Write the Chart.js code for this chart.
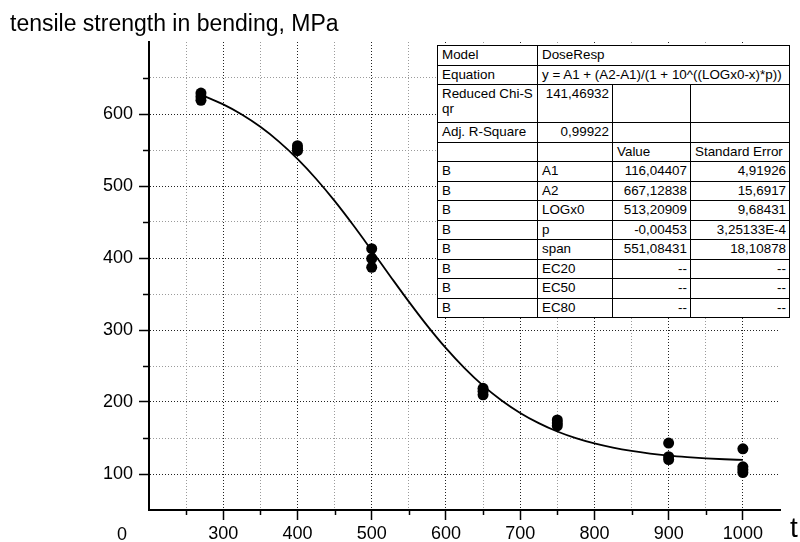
<!DOCTYPE html>
<html>
<head>
<meta charset="utf-8">
<script src="https://cdn.jsdelivr.net/npm/chart.js@4.4.1/dist/chart.umd.min.js"></script>
<style>
  body { margin: 0; background: #fff; }
  #wrap { position: relative; width: 800px; height: 542px; }
  #fitTable {
    position: absolute; left: 437px; top: 45px;
    border-collapse: collapse; table-layout: fixed; width: 352px;
    background: #fff; font: 13.4px "Liberation Sans", Arial, sans-serif; color: #000;
  }
  #fitTable td {
    border: 1px solid #000; height: 17.5px; padding: 1px 3px 0 4px;
    line-height: 15px; vertical-align: top; white-space: nowrap; overflow: hidden;
  }
  #fitTable td.num { text-align: right; }
</style>
</head>
<body>
<div id="wrap">
  <canvas id="grafico" width="800" height="542"></canvas>
  <table id="fitTable">
    <colgroup><col style="width:100px"><col style="width:75px"><col style="width:78px"><col style="width:99px"></colgroup>
    <tbody></tbody>
  </table>
</div>
<script>
// measured points (temperature t, strength MPa)
const pointX = [270, 270, 270, 400, 400, 400, 500, 500, 500, 650, 650, 650,
                750, 750, 750, 900, 900, 900, 1000, 1000, 1000, 1000];
const pointY = [629, 624, 619, 556, 552, 549, 413, 399, 387, 219, 215, 210,
                175, 171, 167, 143, 124, 120, 135, 110, 106, 102];

// fitted curve
const fitX = [270, 300, 325, 350, 375, 400, 425, 450, 475, 500, 525, 550, 575, 600, 625,
              650, 675, 700, 725, 750, 775, 800, 825, 850, 875, 900, 925, 950, 975, 1000];
const fitY = [626.7, 613.3, 599.3, 582.2, 561.7, 537.7, 510.1, 479.3, 445.8, 410.5, 374.7, 339.4, 305.7, 274.7, 247.0,
              222.7, 202.1, 184.8, 170.6, 159.0, 149.8, 142.4, 136.6, 132.0, 128.4, 125.6, 123.5, 121.8, 120.5, 119.5];

const xTickLabels = [300, 400, 500, 600, 700, 800, 900, 1000];
const yTickLabels = [100, 200, 300, 400, 500, 600];

// fit report table
const paramNames = ['A1', 'A2', 'LOGx0', 'p', 'span', 'EC20', 'EC50', 'EC80'];
const paramValues = ['116,04407', '667,12838', '513,20909', '-0,00453', '551,08431', '--', '--', '--'];
const paramErrors = ['4,91926', '15,6917', '9,68431', '3,25133E-4', '18,10878', '--', '--', '--'];

const tbody = document.querySelector('#fitTable tbody');
let html = '';
html += '<tr><td>Model</td><td colspan="3">DoseResp</td></tr>';
html += '<tr><td>Equation</td><td colspan="3">y = A1 + (A2-A1)/(1 + 10^((LOGx0-x)*p))</td></tr>';
html += '<tr><td style="height:36px">Reduced Chi-S<br>qr</td><td class="num">141,46932</td><td></td><td></td></tr>';
html += '<tr><td>Adj. R-Square</td><td class="num">0,99922</td><td></td><td></td></tr>';
html += '<tr><td></td><td></td><td>Value</td><td>Standard Error</td></tr>';
paramNames.forEach((n, i) => {
  html += `<tr><td>B</td><td>${n}</td><td class="num">${paramValues[i]}</td><td class="num">${paramErrors[i]}</td></tr>`;
});
tbody.innerHTML = html;

const FONT = '"Liberation Sans", Arial, sans-serif';

const isMajor = v => v % 100 === 0;

const axisExtras = {
  id: 'axisExtras',
  afterDraw(chart) {
    const { ctx, chartArea, scales } = chart;
    ctx.save();
    ctx.strokeStyle = '#000';
    ctx.lineWidth = 1.5;
    scales.x.ticks.forEach(t => {
      if (!isMajor(t.value) && t.value > 200 && t.value < 1050) {
        const px = Math.round(scales.x.getPixelForValue(t.value)) + 0.5;
        ctx.beginPath();
        ctx.moveTo(px, chartArea.bottom);
        ctx.lineTo(px, chartArea.bottom + 5);
        ctx.stroke();
      }
    });
    scales.y.ticks.forEach(t => {
      if (!isMajor(t.value) && t.value > 50 && t.value < 700) {
        const py = Math.round(scales.y.getPixelForValue(t.value)) + 0.5;
        ctx.beginPath();
        ctx.moveTo(chartArea.left - 6, py);
        ctx.lineTo(chartArea.left, py);
        ctx.stroke();
      }
    });
    ctx.fillStyle = '#000';
    ctx.textBaseline = 'alphabetic';
    ctx.textAlign = 'left';
    ctx.font = '23px ' + FONT;
    ctx.fillText('tensile strength in bending, MPa', 10, 31);
    ctx.font = '28px ' + FONT;
    ctx.fillText('t', chartArea.right + 10, chartArea.bottom + 27);
    ctx.font = '18px ' + FONT;
    ctx.textAlign = 'center';
    ctx.fillText('0', chartArea.left - 27, chartArea.bottom + 30);
    ctx.restore();
  }
};

const gridColor = ctx => {
  const v = ctx.tick ? ctx.tick.value : null;
  if (v === null || v <= 200 && ctx.scale.axis === 'x' || v >= 1050 || v <= 50 || v >= 700 && ctx.scale.axis === 'y') {
    return 'rgba(0,0,0,0)';
  }
  return isMajor(v) ? '#222' : '#9a9a9a';
};

const tickColor = ctx => {
  const v = ctx.tick ? ctx.tick.value : null;
  if (v === null) return 'rgba(0,0,0,0)';
  const labels = ctx.scale.axis === 'x' ? xTickLabels : yTickLabels;
  return labels.includes(v) ? '#000' : 'rgba(0,0,0,0)';
};

new Chart(document.getElementById('grafico').getContext('2d'), {
  type: 'scatter',
  data: {
    datasets: [
      {
        label: 'fit',
        data: fitX.map((x, i) => ({ x: x, y: fitY[i] })),
        showLine: true,
        borderColor: '#000',
        borderWidth: 1.8,
        pointRadius: 0,
        cubicInterpolationMode: 'monotone',
        fill: false,
      },
      {
        label: 'data',
        data: pointX.map((x, i) => ({ x: x, y: pointY[i] })),
        backgroundColor: '#000',
        borderColor: '#000',
        pointRadius: 5.5,
        pointBorderWidth: 0,
      }
    ]
  },
  options: {
    responsive: false,
    animation: false,
    layout: { padding: { left: 0, right: 20, top: 42, bottom: 0 } },
    plugins: { legend: { display: false }, tooltip: { enabled: false } },
    scales: {
      x: {
        type: 'linear',
        min: 200,
        max: 1050,
        afterFit: s => { s.height = 32; },
        border: { display: true, color: '#000', width: 2, dash: [1, 2] },
        grid: {
          color: gridColor,
          lineWidth: 1,
          drawTicks: true,
          tickLength: 10,
          tickColor: tickColor,
          tickWidth: 1.5,
          tickBorderDash: [],
        },
        ticks: {
          stepSize: 50,
          autoSkip: false,
          maxRotation: 0,
          padding: 3,
          color: '#000',
          font: { family: FONT, size: 18 },
          callback: v => xTickLabels.includes(v) ? String(v) : '',
        }
      },
      y: {
        type: 'linear',
        min: 50,
        max: 700,
        afterFit: s => { s.width = 149; },
        border: { display: true, color: '#000', width: 2, dash: [1, 2] },
        grid: {
          color: gridColor,
          lineWidth: 1,
          drawTicks: true,
          tickLength: 10,
          tickColor: tickColor,
          tickWidth: 1.5,
          tickBorderDash: [],
        },
        ticks: {
          stepSize: 50,
          autoSkip: false,
          padding: 6,
          color: '#000',
          font: { family: FONT, size: 18 },
          callback: v => yTickLabels.includes(v) ? String(v) : '',
        }
      }
    }
  },
  plugins: [axisExtras]
});
</script>
</body>
</html>
